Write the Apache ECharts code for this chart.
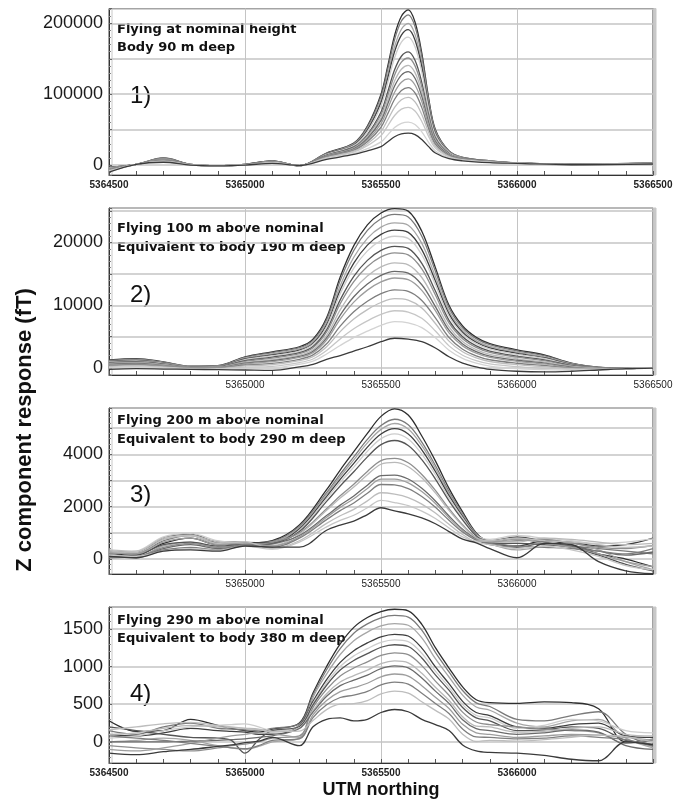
<!DOCTYPE html>
<html>
<head>
<meta charset="utf-8">
<script src="https://cdn.jsdelivr.net/npm/echarts@6/dist/echarts.min.js"></script>
<style>
html, body { margin: 0; padding: 0; background: #fff; }
#main { width: 675px; height: 805px; }
</style>
</head>
<body>
<div id="main"></div>
<script>
// UTM northing sample positions (m) for each panel
var p1X = [5364500, 5364600, 5364700, 5364800, 5364900, 5365000, 5365100, 5365200, 5365300, 5365400, 5365450, 5365500, 5365525, 5365550, 5365575, 5365600, 5365625, 5365650, 5365675, 5365700, 5365750, 5365800, 5365900, 5366000, 5366200, 5366500];
var p2X = [5364500, 5364600, 5364700, 5364800, 5364900, 5365000, 5365100, 5365200, 5365250, 5365300, 5365350, 5365400, 5365450, 5365500, 5365550, 5365600, 5365650, 5365700, 5365750, 5365800, 5365850, 5365900, 5366000, 5366100, 5366200, 5366300, 5366400, 5366500];
var p3X = [5364500, 5364600, 5364700, 5364800, 5364900, 5365000, 5365100, 5365200, 5365300, 5365350, 5365400, 5365450, 5365500, 5365550, 5365600, 5365650, 5365700, 5365750, 5365800, 5365850, 5365900, 5366000, 5366100, 5366200, 5366300, 5366400, 5366500];
var p4X = [5364500, 5364600, 5364700, 5364800, 5364900, 5364950, 5365000, 5365050, 5365100, 5365200, 5365250, 5365300, 5365350, 5365400, 5365450, 5365500, 5365550, 5365600, 5365650, 5365700, 5365750, 5365800, 5365850, 5365900, 5366000, 5366100, 5366200, 5366300, 5366400, 5366500];

// Z response (fT), 1) nominal height
var p1Lines = [
  [-3000, 1000, 10000, 1000, -1000, 1000, 6000, -1000, 17000, 31000, 55000, 100000, 140000, 183000, 210000, 219000, 202000, 158000, 95000, 50000, 20000, 11000, 6000, 3000, 1000, 3000],
  [-3300, 1000, 9800, 1000, -1000, 1000, 5900, -1000, 16600, 30400, 53600, 97000, 135700, 177300, 203400, 212000, 195600, 153100, 92200, 48700, 19600, 10800, 5900, 3000, 1000, 2900],
  [-3800, 1000, 9300, 900, -1000, 900, 5600, -950, 16000, 29200, 51200, 91900, 128200, 167300, 191700, 200000, 184500, 144600, 87400, 46400, 18800, 10500, 5700, 2900, 900, 2800],
  [-4100, 1000, 9000, 800, -1000, 800, 5400, -900, 15600, 28400, 49400, 88200, 122900, 160100, 183400, 191200, 176600, 138500, 84000, 44700, 18200, 10200, 5600, 2900, 900, 2800],
  [-4500, 1000, 8700, 800, -1000, 800, 5200, -900, 15000, 27500, 47300, 83700, 116500, 151500, 173500, 180700, 167000, 131200, 79800, 42700, 17600, 9900, 5500, 2900, 900, 2700],
  [-5400, 1000, 8000, 700, -1000, 700, 4800, -800, 13900, 25600, 43100, 74800, 103600, 134400, 153600, 159800, 147900, 116500, 71500, 38800, 16300, 9300, 5200, 2800, 800, 2500],
  [-5700, 1000, 7700, 600, -1000, 600, 4600, -800, 13500, 24800, 41400, 71100, 98300, 127200, 145300, 151100, 140000, 110400, 68100, 37100, 15700, 9100, 5000, 2800, 800, 2400],
  [-6200, 1000, 7300, 600, -1000, 600, 4400, -800, 13000, 23800, 39300, 66700, 91900, 118700, 135300, 140700, 130500, 103100, 64000, 35200, 15100, 8800, 4900, 2800, 800, 2300],
  [-6500, 1000, 7000, 500, -1000, 500, 4300, -750, 12500, 23000, 37500, 63000, 86500, 111500, 127000, 132000, 122500, 97000, 60500, 33500, 14500, 8500, 4800, 2800, 800, 2300],
  [-6900, 1000, 6600, 400, -1000, 400, 4000, -700, 12000, 22000, 35400, 58600, 80100, 102900, 117000, 121600, 113000, 89700, 56400, 31500, 13800, 8200, 4600, 2700, 700, 2200],
  [-7400, 1000, 6200, 400, -1000, 400, 3800, -700, 11300, 20900, 33000, 53400, 72600, 92900, 105400, 109400, 101800, 81100, 51500, 29200, 13100, 7900, 4400, 2700, 700, 2100],
  [-8000, 1000, 5700, 300, -1000, 300, 3500, -650, 10600, 19600, 30200, 47500, 64000, 81500, 92100, 95500, 89100, 71400, 46000, 26600, 12200, 7500, 4200, 2600, 600, 1900],
  [-8500, 1000, 5300, 200, -1000, 200, 3200, -600, 9900, 18400, 27400, 41500, 55500, 70000, 78900, 81500, 76400, 61600, 40500, 23900, 11300, 7100, 4000, 2600, 600, 1800],
  [-9400, 1000, 4500, 100, -1000, 100, 2800, -550, 8800, 16400, 23200, 32700, 42600, 52900, 58900, 60700, 57300, 47000, 32200, 20000, 10000, 6500, 3700, 2500, 500, 1600],
  [-10000, 1000, 4000, 0, -1000, 0, 2500, -500, 8000, 15000, 20000, 26000, 33000, 40000, 44000, 45000, 43000, 36000, 26000, 17000, 9000, 6000, 3500, 2500, 500, 1500]
];

// 2) 100 m above nominal
var p2Lines = [
  [1300, 1500, 1000, 300, 400, 1800, 2600, 3400, 4600, 8000, 14500, 19500, 22800, 24700, 25400, 25000, 21800, 16000, 10000, 6700, 4900, 3900, 2900, 2100, 800, 150, -50, 50],
  [1230, 1430, 950, 280, 370, 1710, 2470, 3260, 4420, 7700, 13940, 18740, 21930, 23780, 24470, 24080, 21010, 15420, 9630, 6430, 4690, 3720, 2750, 1980, 740, 130, -50, 50],
  [1140, 1320, 870, 250, 330, 1570, 2280, 3050, 4160, 7270, 13130, 17650, 20670, 22450, 23130, 22760, 19860, 14590, 9100, 6050, 4380, 3450, 2530, 1800, 660, 100, -60, 40],
  [1050, 1230, 810, 220, 290, 1450, 2110, 2870, 3940, 6900, 12430, 16710, 19580, 21300, 21970, 21610, 18880, 13880, 8640, 5720, 4120, 3220, 2340, 1650, 580, 80, -60, 40],
  [980, 1160, 760, 190, 260, 1350, 1970, 2720, 3750, 6590, 11840, 15920, 18670, 20330, 21000, 20660, 18050, 13270, 8250, 5440, 3900, 3030, 2180, 1530, 520, 50, -60, 40],
  [860, 1030, 670, 150, 210, 1190, 1740, 2470, 3440, 6080, 10860, 14610, 17160, 18740, 19390, 19060, 16680, 12280, 7610, 4980, 3530, 2710, 1910, 1310, 420, 20, -70, 30],
  [790, 950, 610, 130, 180, 1080, 1590, 2310, 3240, 5750, 10240, 13770, 16180, 17710, 18360, 18040, 15800, 11640, 7200, 4690, 3300, 2500, 1740, 1180, 360, 0, -70, 30],
  [670, 830, 520, 90, 130, 920, 1360, 2060, 2920, 5230, 9260, 12460, 14670, 16110, 16750, 16450, 14430, 10640, 6560, 4230, 2930, 2180, 1480, 970, 260, -40, -70, 30],
  [570, 730, 440, 60, 90, 780, 1170, 1850, 2660, 4810, 8450, 11370, 13410, 14780, 15400, 15130, 13280, 9800, 6030, 3840, 2630, 1920, 1250, 790, 170, -70, -70, 30],
  [500, 640, 390, 30, 50, 680, 1020, 1690, 2460, 4470, 7810, 10510, 12420, 13730, 14350, 14090, 12380, 9150, 5610, 3540, 2390, 1710, 1080, 660, 100, -90, -80, 20],
  [360, 500, 280, -10, -10, 490, 750, 1400, 2100, 3870, 6680, 8980, 10660, 11870, 12470, 12230, 10780, 7990, 4870, 3010, 1960, 1330, 770, 410, -10, -130, -80, 20],
  [260, 390, 200, -50, -50, 340, 550, 1180, 1820, 3410, 5810, 7820, 9320, 10450, 11050, 10820, 9570, 7100, 4300, 2600, 1630, 1050, 540, 220, -100, -160, -90, 20],
  [120, 240, 90, -90, -110, 150, 280, 880, 1450, 2800, 4650, 6260, 7510, 8550, 9130, 8930, 7930, 5910, 3540, 2050, 1200, 670, 220, -30, -220, -200, -90, 10],
  [-10, 100, 0, -140, -170, -30, 30, 610, 1110, 2250, 3600, 4850, 5880, 6820, 7390, 7210, 6450, 4840, 2850, 1560, 800, 330, -70, -250, -330, -240, -90, 10],
  [-200, -100, -150, -200, -250, -300, -350, 200, 600, 1400, 2000, 2700, 3400, 4200, 4750, 4600, 4200, 3200, 1800, 800, 200, -200, -500, -600, -500, -300, -100, 0]
];

// 3) 200 m above nominal
var p3Lines = [
  [200, 150, 600, 800, 550, 600, 700, 1300, 2650, 3400, 4100, 4800, 5450, 5740, 5500, 4700, 3750, 2700, 1800, 1000, 650, 500, 700, 550, 200, 0, -300],
  [250, 200, 700, 900, 600, 620, 680, 1250, 2535, 3245, 3904, 4571, 5099, 5340, 5128, 4468, 3572, 2578, 1723, 972, 700, 800, 650, 500, 400, 300, 200],
  [150, 100, 500, 650, 450, 580, 650, 1200, 2469, 3154, 3790, 4437, 4953, 5178, 4971, 4334, 3469, 2507, 1678, 956, 600, 350, 500, 600, 350, -100, -400],
  [300, 250, 800, 950, 650, 640, 620, 1150, 2388, 3045, 3652, 4276, 4777, 4981, 4780, 4171, 3344, 2421, 1624, 936, 700, 850, 700, 650, 500, 550, 800],
  [250, 300, 850, 970, 700, 600, 560, 1100, 2307, 2936, 3514, 4115, 4601, 4785, 4589, 4008, 3220, 2335, 1570, 916, 750, 900, 800, 700, 600, 650, 770],
  [100, 150, 550, 650, 500, 560, 600, 1050, 2202, 2793, 3334, 3904, 4370, 4528, 4339, 3795, 3056, 2223, 1499, 890, 600, 600, 550, 450, 150, -200, -450],
  [200, 100, 450, 600, 450, 540, 640, 1000, 1923, 2415, 2857, 3346, 3760, 3847, 3679, 3232, 2624, 1926, 1312, 822, 650, 700, 750, 600, 450, 400, 520],
  [300, 250, 750, 900, 650, 600, 520, 950, 1860, 2329, 2749, 3219, 3621, 3692, 3528, 3104, 2526, 1859, 1270, 806, 700, 650, 800, 750, 650, 550, 600],
  [100, 50, 400, 550, 400, 520, 580, 900, 1661, 2060, 2409, 2822, 3187, 3208, 3059, 2703, 2219, 1647, 1136, 758, 550, 450, 600, 500, 300, 150, 270],
  [250, 200, 650, 800, 550, 620, 500, 850, 1599, 1976, 2303, 2698, 3052, 3057, 2912, 2578, 2123, 1581, 1095, 742, 650, 750, 600, 450, 200, -100, -290],
  [50, 100, 350, 450, 350, 560, 450, 800, 1506, 1850, 2144, 2512, 2848, 2830, 2692, 2390, 1979, 1482, 1032, 720, 600, 500, 450, 400, 300, 200, 400],
  [350, 300, 800, 900, 600, 660, 400, 700, 1362, 1655, 1898, 2224, 2533, 2479, 2350, 2099, 1756, 1329, 936, 684, 700, 800, 700, 650, 550, 450, 500],
  [150, 100, 300, 400, 330, 500, 380, 650, 1230, 1476, 1673, 1960, 2245, 2158, 2038, 1833, 1552, 1189, 847, 652, 550, 400, 500, 350, 100, -250, -410],
  [100, 50, 300, 350, 300, 500, 460, 460, 1100, 1300, 1450, 1700, 1960, 1840, 1730, 1570, 1350, 1050, 760, 620, 400, 50, 600, 550, -100, -450, -560]
];

// 4) 290 m above nominal
var p4Lines = [
  [280, 140, 150, 300, 220, 180, 150, 130, 170, 250, 650, 1000, 1300, 1520, 1650, 1730, 1760, 1740, 1560, 1250, 980, 730, 560, 520, 510, 530, 520, 440, 0, 20],
  [150, 100, 200, 250, 180, 170, 160, 150, 180, 242, 622, 957, 1239, 1443, 1566, 1647, 1678, 1657, 1482, 1187, 929, 682, 518, 470, 300, 280, 350, 400, 100, -50],
  [0, 20, 50, 20, -50, -80, -100, -60, 0, 50, 586, 900, 1160, 1343, 1457, 1538, 1570, 1548, 1380, 1104, 861, 620, 463, 420, 250, 200, 280, 300, 50, -80],
  [100, 80, 120, 180, 150, 140, 130, 100, 100, 218, 538, 825, 1055, 1210, 1313, 1395, 1428, 1405, 1245, 995, 773, 538, 390, 350, 200, 180, 230, 250, 80, 60],
  [50, 80, 150, 200, 220, 230, 240, 200, 150, 210, 513, 787, 1001, 1142, 1238, 1321, 1354, 1331, 1176, 939, 727, 495, 353, 320, 180, 220, 300, 280, 150, 120],
  [200, 150, 100, 60, 50, 20, -150, 30, 150, 204, 491, 752, 953, 1081, 1172, 1256, 1289, 1266, 1114, 889, 686, 457, 319, 280, 150, 160, 200, 180, 20, -30],
  [-50, -80, -100, -120, -80, -50, -30, 0, 50, 80, 454, 696, 874, 981, 1063, 1147, 1181, 1157, 1012, 806, 619, 395, 264, 230, 200, 170, 150, 120, -20, 40],
  [100, 120, 180, 220, 200, 190, 180, 170, 130, 183, 418, 639, 794, 880, 953, 1039, 1074, 1049, 910, 724, 552, 333, 209, 200, 130, 140, 180, 200, 100, 80],
  [0, 0, 0, 10, 20, 30, 40, 60, 80, 177, 396, 605, 746, 819, 887, 973, 1009, 983, 848, 674, 511, 295, 176, 150, 100, 120, 160, 130, -50, -100],
  [-100, -120, -80, -20, 50, 80, 100, 120, 110, 60, 359, 548, 667, 719, 778, 864, 901, 874, 746, 591, 444, 233, 121, 100, 60, 80, 100, 90, 60, 20],
  [80, 50, 20, -20, -60, -80, -90, -50, 20, 40, 323, 492, 589, 620, 670, 757, 794, 767, 645, 509, 377, 171, 66, 60, 40, 50, 80, 60, 30, -60],
  [160, 200, 240, 260, 220, 200, 180, 160, 140, 144, 283, 429, 500, 508, 548, 637, 675, 647, 532, 418, 303, 102, 5, 20, 10, 30, 60, 90, 70, 0],
  [-150, -170, -130, -100, -60, -40, -10, 10, 60, -50, 200, 300, 320, 280, 300, 390, 430, 400, 300, 230, 150, -40, -120, -140, -150, -180, -230, -250, 0, -40]
];

var p1Notes = ['Flying at nominal height', 'Body 90 m deep'];
var p2Notes = ['Flying 100 m above nominal', 'Equivalent to body 190 m deep'];
var p3Notes = ['Flying 200 m above nominal', 'Equivalent to body 290 m deep'];
var p4Notes = ['Flying 290 m above nominal', 'Equivalent to body 380 m deep'];

// x tick labels that are printed under each panel
var p1Ticks = [5364500, 5365000, 5365500, 5366000, 5366500];
var p2Ticks = [5365000, 5365500, 5366000, 5366500];
var p3Ticks = [5365000, 5365500, 5366000];
var p4Ticks = [5364500, 5365000, 5365500, 5366000];

var greys = ['#2e2e2e', '#7a7a7a', '#a6a6a6', '#3e3e3e', '#cdcdcd', '#555555', '#8e8e8e', '#b9b9b9', '#6a6a6a', '#9d9d9d', '#7e7e7e', '#bdbdbd', '#c6c6c6', '#d3d3d3'];

var panels = [
    { xs: p1X, lines: p1Lines, notes: p1Notes, ticks: p1Ticks, tag: '1)', top: 8.5, height: 166.5, min: -14000, max: 221000, step: 50000, labelStep: 100000, boldX: true, n1: 21.5, n2: 39.5 },
    { xs: p2X, lines: p2Lines, notes: p2Notes, ticks: p2Ticks, tag: '2)', top: 208, height: 167, min: -1100, max: 25500, step: 5000, labelStep: 10000, boldX: false, n1: 21, n2: 40 },
    { xs: p3X, lines: p3Lines, notes: p3Notes, ticks: p3Ticks, tag: '3)', top: 408, height: 166, min: -570, max: 5770, step: 1000, labelStep: 2000, boldX: false, n1: 13, n2: 32 },
    { xs: p4X, lines: p4Lines, notes: p4Notes, ticks: p4Ticks, tag: '4)', top: 607, height: 156, min: -280, max: 1790, step: 500, labelStep: 500, boldX: true, n1: 14, n2: 32 }
];

var grid = [], xAxis = [], yAxis = [], series = [], graphic = [];

panels.forEach(function (p, i) {
    grid.push({
        left: 109, top: p.top, width: 544, height: p.height,
        show: true, backgroundColor: '#fff', borderColor: '#444', borderWidth: 1,
        shadowColor: '#c8c8c8', shadowOffsetX: 3, shadowOffsetY: 0, shadowBlur: 0,
        containLabel: false, outerBoundsMode: 'none'
    });
    xAxis.push({
        gridIndex: i, type: 'value', min: 5364500, max: 5366500,
        minInterval: 500, maxInterval: 500,
        axisLine: { show: true, onZero: false, lineStyle: { color: '#333', width: 1 } },
        axisTick: { show: true, inside: true, length: 4, lineStyle: { color: '#555' } },
        minorTick: { show: true, splitNumber: 5, length: 4, lineStyle: { color: '#555' } },
        splitLine: { show: true, lineStyle: { color: '#c4c4c4', width: 1 } },
        axisLabel: {
            margin: 5, fontSize: 10, fontFamily: 'Liberation Sans', color: '#222',
            fontWeight: p.boldX ? 'bold' : 'normal',
            formatter: function (v) { return p.ticks.indexOf(v) >= 0 ? String(v) : ''; }
        }
    });
    yAxis.push({
        gridIndex: i, type: 'value', min: p.min, max: p.max,
        minInterval: p.step, maxInterval: p.step,
        axisLine: { show: true, onZero: false, lineStyle: { color: '#333', width: 1 } },
        axisTick: { show: true, inside: true, length: 3, lineStyle: { color: '#666' } },
        minorTick: { show: true, splitNumber: 5, length: 2, lineStyle: { color: '#888' } },
        splitLine: { show: true, lineStyle: { color: '#c4c4c4', width: 1.5 } },
        axisLabel: {
            margin: 6, fontSize: 18, fontFamily: 'Liberation Sans', color: '#1a1a1a',
            formatter: function (v) { return v % p.labelStep === 0 ? String(v) : ''; }
        }
    });
    p.lines.forEach(function (vals, k) {
        var last = k === p.lines.length - 1;
        series.push({
            type: 'line', xAxisIndex: i, yAxisIndex: i,
            data: p.xs.map(function (x, j) { return [x, vals[j]]; }),
            smooth: 0.35, showSymbol: false, symbol: 'none', silent: true, clip: true,
            lineStyle: { color: last ? '#3a3a3a' : greys[k % greys.length], width: 1.3 }
        });
    });
    graphic.push({
        type: 'text', x: 117, y: p.top + p.n1,
        style: { text: p.notes[0], font: 'bold 13px "DejaVu Sans"', fill: '#111', textAlign: 'left', textVerticalAlign: 'middle' }
    });
    graphic.push({
        type: 'text', x: 117, y: p.top + p.n2,
        style: { text: p.notes[1], font: 'bold 13px "DejaVu Sans"', fill: '#111', textAlign: 'left', textVerticalAlign: 'middle' }
    });
    graphic.push({
        type: 'text', x: 130, y: p.top + 87.5,
        style: { text: p.tag, font: '24px "Liberation Sans"', fill: '#111', textAlign: 'left', textVerticalAlign: 'middle' }
    });
});

graphic.push({
    type: 'text', x: 25, y: 430, rotation: Math.PI / 2,
    style: { text: 'Z component response (fT)', font: 'bold 22px "Liberation Sans"', fill: '#111', textAlign: 'center', textVerticalAlign: 'middle' }
});
graphic.push({
    type: 'text', x: 381, y: 790,
    style: { text: 'UTM northing', font: 'bold 18px "Liberation Sans"', fill: '#111', textAlign: 'center', textVerticalAlign: 'middle' }
});

var myChart = echarts.init(document.getElementById('main'));
myChart.setOption({
    animation: false,
    backgroundColor: '#fff',
    grid: grid,
    xAxis: xAxis,
    yAxis: yAxis,
    series: series,
    graphic: graphic
});
</script>
</body>
</html>
